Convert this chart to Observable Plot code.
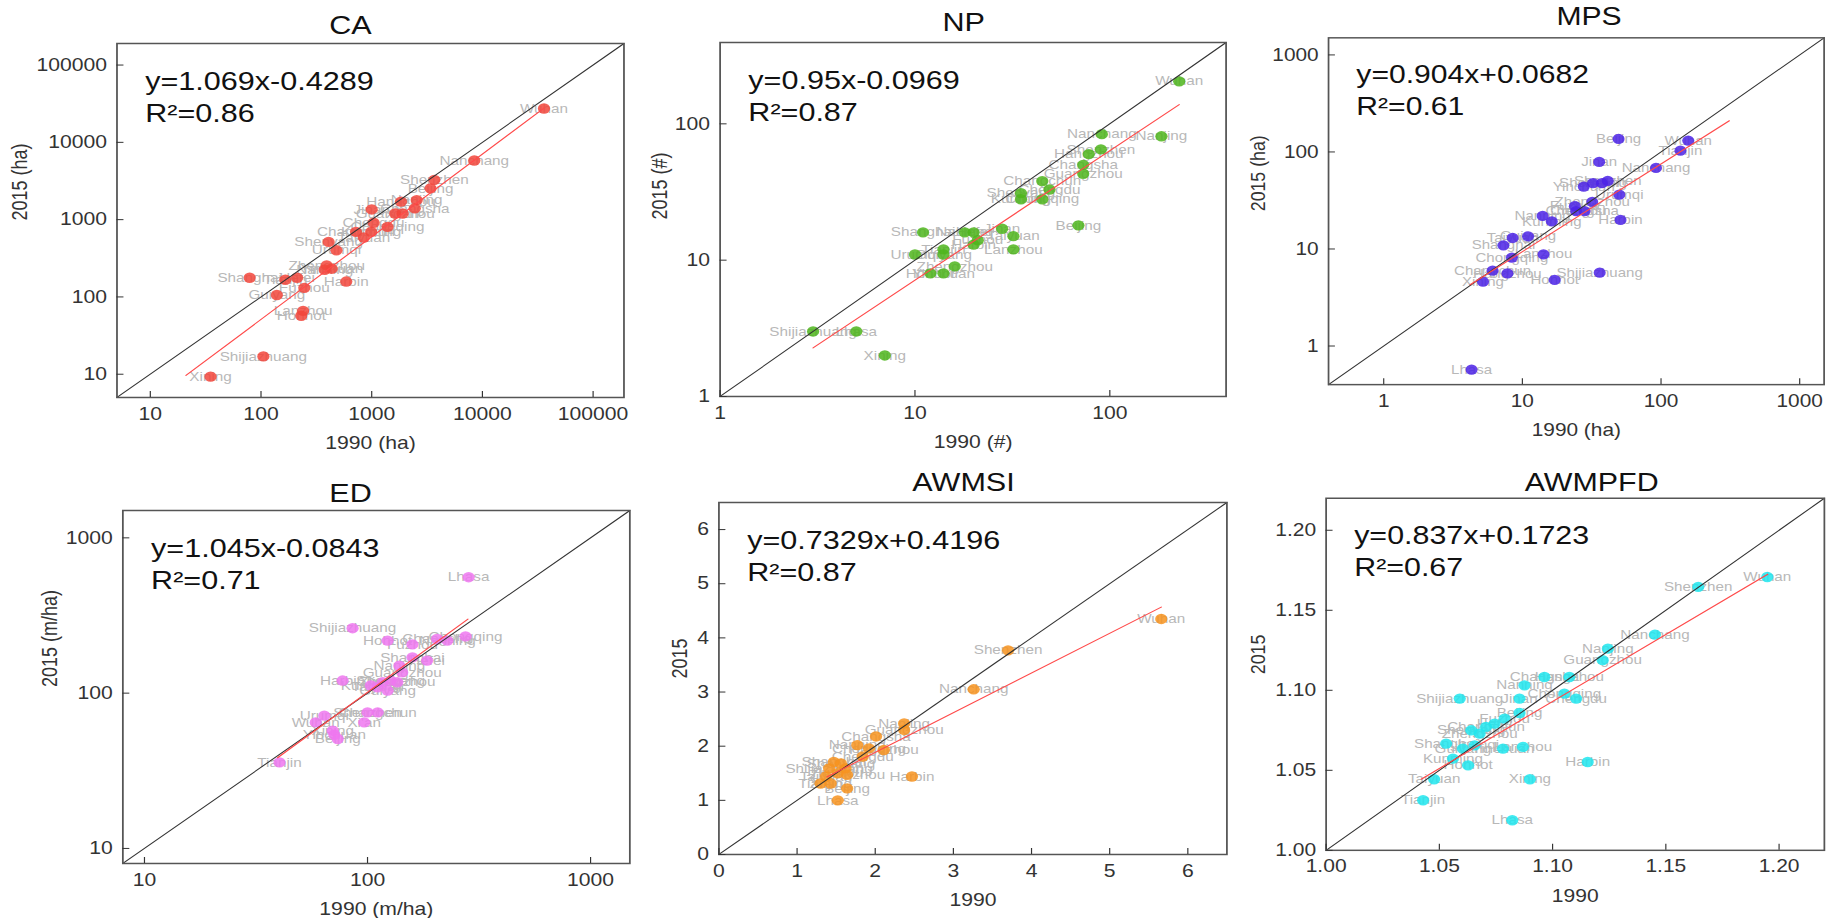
<!DOCTYPE html>
<html>
<head>
<meta charset="utf-8">
<script src="https://cdn.jsdelivr.net/npm/d3@7"></script>
<script src="https://cdn.jsdelivr.net/npm/@observablehq/plot@0.6"></script>
<style>
html, body { margin: 0; padding: 0; background: #fff; overflow: hidden; }
#stage { position: relative; width: 1571px; height: 918px; transform: scaleX(1.17568); transform-origin: 0 0; font-family: "Liberation Sans", Arial, sans-serif; }
.panel { position: absolute; }
</style>
</head>
<body>
<div id="stage"></div>
<script>
// ---------------- DATA ----------------
// CA (ha)
const caCity = ["Wuhan","Nanchang","Shenzhen","Beijing","Nanjing","Changsha","Hangzhou","Guangzhou","Xi'an","Jinan","Chengdu","Chongqing","Changchun","Taiyuan","Kunming","Shenyang","Urumqi","Zhengzhou","Yinchuan","Nanning","Shanghai","Tianjin","Hefei","Harbin","Fuzhou","Guiyang","Lanzhou","Hohhot","Shijiazhuang","Xining"];
const ca1990 = [36000,8450,3680,3400,2550,2450,1840,1630,1900,1000,1040,1390,721,849,990,408,480,392,435,376,79,166,212,589,246,139,240,231,105,35];
const ca2015 = [27400,5820,3270,2540,1790,1400,1710,1200,1200,1355,910,807,695,586,695,515,401,256,232,225,177,167,177,158,131,106,66,57,17,9.3];
const caFit = [1.069, -0.4289];
const caFitRange = [21, 36000];
const caR2 = 0.86;

// NP (#)
const npCity = ["Wuhan","Nanjing","Nanchang","Shenzhen","Hangzhou","Changsha","Guangzhou","Changchun","Chengdu","Shenyang","Kunming","Chongqing","Beijing","Jinan","Shanghai","Nanning","Hefei","Fuzhou","Taiyuan","Harbin","Tianjin","Lanzhou","Urumqi","Guiyang","Zhengzhou","Hohhot","Yinchuan","Shijiazhuang","Lhasa","Xining"];
const np1990 = [227,184,91,90,78,73,73,45,49,35,35,45,69,28,11,18,20,21,32,20,14,32,10,14,16,12,14,3,5,7];
const np2015 = [205,81,84,65,60,50,43,38,33,31,28,28,18,17,16,16,16,14,15,13,12,12,11,11,9,8,8,3,3,2];
const npFit = [0.95, -0.0969];
const npFitRange = [3, 227];
const npR2 = 0.87;

// MPS (ha)
const mpsCity = ["Beijing","Wuhan","Tianjin","Jinan","Nanchang","Shenzhen","Hefei","Shenyang","Yinchuan","Urumqi","Zhengzhou","Chengdu","Changsha","Fuzhou","Harbin","Nanning","Kunming","Guiyang","Taiyuan","Shanghai","Lanzhou","Chongqing","Changchun","Hangzhou","Shijiazhuang","Hohhot","Xining","Lhasa"];
const mps1990 = [49.4,157,138,35.8,92,41.3,37.5,32.3,27.7,50,31.9,24.4,28.1,23.9,51,14,16.3,11,8.5,7.3,14.2,8.4,6.1,7.8,36.1,17.1,5.2,4.3];
const mps2015 = [136,131,103,78.8,68.5,50.2,47.6,47.6,44,36.3,30.5,24.6,24.6,27.6,19.9,21.9,19.2,13.5,13,10.9,8.8,8.15,6,5.6,5.7,4.8,4.6,0.57];
const mpsFit = [0.904, 0.0682];
const mpsFitRange = [4.2, 311];
const mpsR2 = 0.61;

// ED (m/ha)
const edCity = ["Lhasa","Shijiazhuang","Hohhot","Fuzhou","Changsha","Nanning","Chongqing","Shanghai","Hefei","Nanjing","Guangzhou","Harbin","Kunming","Jinan","Shenyang","Zhengzhou","Taiyuan","Guiyang","Shenzhen","Changchun","Urumqi","Xi'an","Wuhan","Xining","Yinchuan","Beijing","Tianjin"];
const ed1990 = [284,85.7,123,159,205,228,275,159,185,139,143,77.3,103.5,117,127,136,111,123,100,111,64,96.6,58.6,69.8,71,73.5,40.3];
const ed2015 = [558,262,218,206,223,218,232,170,162,150,136,120.5,112,117.5,120.5,117.5,109,104,75.2,75.2,71.6,64.8,64.8,57.3,54,50.7,35.8];
const edFit = [1.045, -0.0843];
const edFitRange = [39.5, 282];
const edR2 = 0.71;

// AWMSI
const awCity = ["Wuhan","Shenzhen","Nanchang","Nanjing","Guangzhou","Changsha","Nanning","Hangzhou","Chongqing","Chengdu","Shanghai","Shenyang","Shijiazhuang","Jinan","Fuzhou","Taiyuan","Zhengzhou","Tianjin","Xining","Beijing","Lhasa","Harbin"];
const aw1990 = [5.66,3.70,3.26,2.37,2.37,2.01,1.77,2.11,1.92,1.84,1.47,1.56,1.41,1.62,1.52,1.37,1.64,1.30,1.43,1.64,1.52,2.47];
const aw2015 = [4.35,3.77,3.05,2.42,2.30,2.18,2.02,1.93,1.96,1.81,1.71,1.68,1.59,1.59,1.50,1.44,1.47,1.31,1.31,1.22,1.00,1.44];
const awFit = [0.7329, 0.4196];
const awFitRange = [1.38, 5.66];
const awR2 = 0.87;

// AWMPFD
const pfCity = ["Wuhan","Shenzhen","Nanchang","Nanjing","Guangzhou","Changsha","Hangzhou","Nanning","Shijiazhuang","Jinan","Chongqing","Chengdu","Beijing","Fuzhou","Hefei","Changchun","Shenyang","Zhengzhou","Shanghai","Guiyang","Urumqi","Yinchuan","Lanzhou","Kunming","Hohhot","Harbin","Taiyuan","Xining","Tianjin","Lhasa"];
const pf1990 = [1.1948,1.1643,1.1452,1.1244,1.1221,1.0964,1.1074,1.0876,1.0590,1.0854,1.1052,1.1104,1.0854,1.0788,1.0744,1.0706,1.0641,1.0678,1.0530,1.0604,1.0656,1.0781,1.0869,1.0560,1.0627,1.1155,1.0477,1.0900,1.0428,1.0822];
const pf2015 = [1.1708,1.1646,1.1348,1.1260,1.1188,1.1083,1.1083,1.1031,1.0948,1.0948,1.0979,1.0948,1.0858,1.0823,1.0792,1.0771,1.0750,1.0729,1.0667,1.0635,1.0656,1.0635,1.0646,1.0573,1.0531,1.0552,1.0444,1.0444,1.0313,1.0188];
const pfFit = [0.837, 0.1723];
const pfFitRange = [1.042, 1.195];
const pfR2 = 0.67;

// tick values
const caTicks = [10, 100, 1000, 10000, 100000];
const npTicks = [1, 10, 100];
const mpsTicks = [1, 10, 100, 1000];
const edTicks = [10, 100, 1000];
const awTicks = [0, 1, 2, 3, 4, 5, 6];
const pfTicks = [1.00, 1.05, 1.10, 1.15, 1.20];

// ---------------- LAYOUT ----------------
const S = 1.17568; // horizontal stretch of the original figure
const panels = [
  {title:"CA", city:caCity, x:ca1990, y:ca2015, fit:caFit, range:caFitRange, r2:caR2, ticks:caTicks,
   type:"log", domain:[5,190000], fmt:d3.format("d"), color:"#f2453b", xLabel:"1990 (ha)", yLabel:"2015 (ha)",
   frame:[116,43,623,397], titleDx:-17, titleUp:18, yOff:82},
  {title:"NP", city:npCity, x:np1990, y:np2015, fit:npFit, range:npFitRange, r2:npR2, ticks:npTicks,
   type:"log", domain:[1,395], fmt:d3.format("d"), color:"#4db51c", xLabel:"1990 (#)", yLabel:"2015 (#)",
   frame:[719,42,1225,396], titleDx:-8, titleUp:20, yOff:51},
  {title:"MPS", city:mpsCity, x:mps1990, y:mps2015, fit:mpsFit, range:mpsFitRange, r2:mpsR2, ticks:mpsTicks,
   type:"log", domain:[0.4,1500], fmt:d3.format("d"), color:"#4b22e6", xLabel:"1990 (ha)", yLabel:"2015 (ha)",
   frame:[1330,38,1833,390], titleDx:11, titleUp:21, yOff:61},
  {title:"ED", city:edCity, x:ed1990, y:ed2015, fit:edFit, range:edFitRange, r2:edR2, ticks:edTicks,
   type:"log", domain:[8,1500], fmt:d3.format("d"), color:"#ee77f0", xLabel:"1990 (m/ha)", yLabel:"2015 (m/ha)",
   frame:[122,510,629,863], titleDx:-22, titleUp:17, yOff:62},
  {title:"AWMSI", city:awCity, x:aw1990, y:aw2015, fit:awFit, range:awFitRange, r2:awR2, ticks:awTicks,
   type:"linear", domain:[0,6.5], fmt:d3.format("d"), color:"#f7931e", xLabel:"1990", yLabel:"2015",
   frame:[718,502,1226,854], titleDx:-8, titleUp:20, yOff:33},
  {title:"AWMPFD", city:pfCity, x:pf1990, y:pf2015, fit:pfFit, range:pfFitRange, r2:pfR2, ticks:pfTicks,
   type:"linear", domain:[1,1.22], fmt:d3.format(".2f"), color:"#1fe6ee", xLabel:"1990", yLabel:"2015",
   frame:[1326,498,1827,852], titleDx:14, titleUp:16, yOff:58}
];

const stage = document.getElementById("stage");
const mL = 100, mR = 20, mT = 45, mB = 70;

for (const p of panels) {
  const fl = p.frame[0] / S, fr = p.frame[2] / S, ft = p.frame[1], fb = p.frame[3];
  const width = (fr - fl) + mL + mR;
  const height = (fb - ft) + mT + mB;
  const data = p.city.map((c, i) => ({city: c, x: p.x[i], y: p.y[i]}));
  const [a, b] = p.fit;
  const f = p.type === "log" ? (x) => Math.pow(10, a * Math.log10(x) + b) : (x) => a * x + b;
  const fitLine = p.range.map(x => ({x, y: f(x)}));
  const diag = p.domain.map(v => ({x: v, y: v}));
  const eq = `y=${a}x${b >= 0 ? "+" : ""}${b}\nR²=${p.r2.toFixed(2)}`;

  const chart = Plot.plot({
    width, height,
    marginLeft: mL, marginRight: mR, marginTop: mT, marginBottom: mB,
    style: {fontFamily: "'Liberation Sans', Arial, sans-serif", fontSize: "18px", color: "#333", background: "transparent", overflow: "visible"},
    x: {type: p.type, domain: p.domain},
    y: {type: p.type, domain: p.domain},
    marks: [
      Plot.text(data, {x: "x", y: "y", text: "city", fill: "#b8b8b8", fontSize: 13}),
      Plot.dot(data, {x: "x", y: "y", r: 5.2, fill: p.color, fillOpacity: 0.85}),
      Plot.line(diag, {x: "x", y: "y", stroke: "#333", strokeWidth: 1}),
      Plot.line(fitLine, {x: "x", y: "y", stroke: "#ff4a4a", strokeWidth: 1.1}),
      Plot.frame({stroke: "#555", strokeWidth: 1.5}),
      Plot.axisX(p.ticks, {tickSize: -6, tickPadding: 15.5, tickFormat: p.fmt, fontSize: 18, label: null}),
      Plot.axisY(p.ticks, {tickSize: -6, tickPadding: 14.5, tickFormat: p.fmt, fontSize: 18, label: null}),
      Plot.text([p.title], {text: d => d, frameAnchor: "top", dx: p.titleDx, dy: -p.titleUp, lineAnchor: "middle", fontSize: 26, fill: "#111"}),
      Plot.text([p.xLabel], {text: d => d, frameAnchor: "bottom", dy: 46, lineAnchor: "middle", fontSize: 18, fill: "#333"}),
      Plot.text([p.yLabel], {text: d => d, frameAnchor: "left", dx: -p.yOff, rotate: -90, lineAnchor: "middle", fontSize: 18, fill: "#333"}),
      Plot.text([eq], {text: d => d, frameAnchor: "top-left", dx: 24, dy: 23.5, lineAnchor: "top", textAnchor: "start", fontSize: 26, lineHeight: 1.23, fill: "#111"})
    ]
  });
  const div = document.createElement("div");
  div.className = "panel";
  div.style.left = (fl - mL) + "px";
  div.style.top = (ft - mT) + "px";
  div.appendChild(chart);
  stage.appendChild(div);
}
</script>
</body>
</html>
